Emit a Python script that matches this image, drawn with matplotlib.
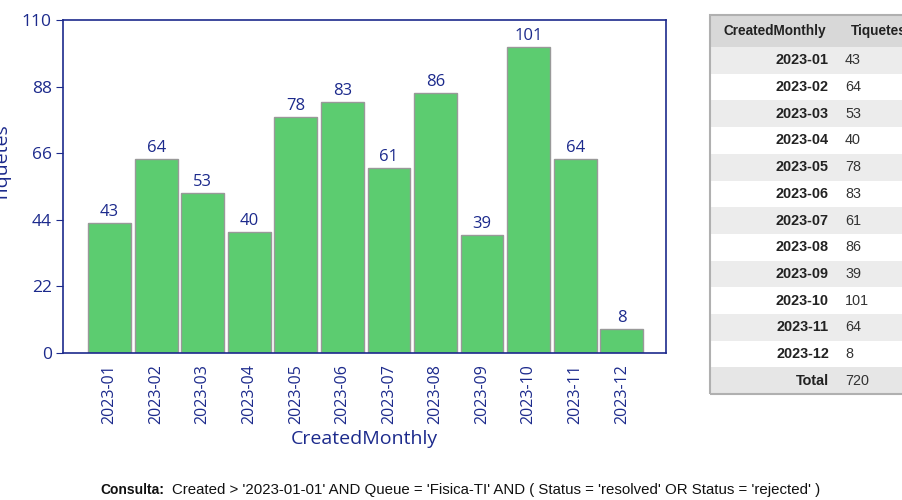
import matplotlib.pyplot as plt
from matplotlib.patches import Rectangle
import numpy as np

months = ['2023-01', '2023-02', '2023-03', '2023-04', '2023-05', '2023-06',
          '2023-07', '2023-08', '2023-09', '2023-10', '2023-11', '2023-12']
tickets = [43, 64, 53, 40, 78, 83, 61, 86, 39, 101, 64, 8]
yticks = [0, 22, 44, 66, 88, 110]

query = "Created > '2023-01-01' AND Queue = 'Fisica-TI' AND ( Status = 'resolved' OR Status = 'rejected' )"

navy = '#1c2a8c'
W, H = 902, 500

fig = plt.figure(figsize=(9.02, 5.0), dpi=100)
ax = fig.add_axes([63 / W, 1 - 353 / H, (666 - 63) / W, (353 - 20) / H])

x = np.arange(len(months))
bars = ax.bar(x, tickets, width=0.92, color='#5ccc70', edgecolor='#999999', linewidth=1)
for xi, v in zip(x, tickets):
    ax.text(xi, v + 1, str(v), ha='center', va='bottom', color=navy,
            fontsize=12, family='Open Sans')

ax.set_xlim(-1.0, 11.95)
ax.set_ylim(0, 110)
ax.set_yticks(yticks)
ax.set_xticks(x)
ax.set_xticklabels(months, rotation=90, family='Open Sans', fontsize=11.5, color=navy)
for lbl in ax.get_yticklabels():
    lbl.set_family('Open Sans')
    lbl.set_fontsize(12.5)
    lbl.set_color(navy)
ax.tick_params(axis='y', length=5, color=navy, pad=3)
ax.tick_params(axis='x', length=0, pad=8)
for sp in ax.spines.values():
    sp.set_color(navy)
    sp.set_linewidth(1.2)

ax.set_xlabel('CreatedMonthly', family='Open Sans', fontsize=14, color=navy, labelpad=4)
# the reference shows this label mostly cut off at the left edge
ax.set_ylabel('Tiquetes', family='Open Sans', fontsize=14, color=navy)
ax.yaxis.set_label_coords(-0.085, 0.57)

# table on the right
def fx(px):
    return px / W

def fy(py):
    return 1 - py / H

hfs = 9.8
tfs = 10.4
row_h = 26.7
top = 15
left = 710
right = 905
hdr_h = 32
fig.patches.append(Rectangle((fx(left), fy(top + hdr_h)), fx(right - left), hdr_h / H,
                             transform=fig.transFigure, facecolor='#d8d8d8', edgecolor='none'))
fig.text(fx(724), fy(top + hdr_h / 2), 'CreatedMonthly', ha='left', va='center',
         fontsize=hfs, weight='bold', family='Liberation Sans', color='#222222')
fig.text(fx(851), fy(top + hdr_h / 2), 'Tiquetes', ha='left', va='center',
         fontsize=hfs, weight='bold', family='Liberation Sans', color='#222222')

y0 = top + hdr_h
for i, (m, v) in enumerate(zip(months, tickets)):
    yt = y0 + i * row_h
    fc = '#ececec' if i % 2 == 0 else '#ffffff'
    fig.patches.append(Rectangle((fx(left), fy(yt + row_h)), fx(right - left), row_h / H,
                                 transform=fig.transFigure, facecolor=fc, edgecolor='none'))
    fig.text(fx(829), fy(yt + row_h / 2), m, ha='right', va='center',
             fontsize=tfs, weight='bold', family='Liberation Sans', color='#222222')
    fig.text(fx(845), fy(yt + row_h / 2), str(v), ha='left', va='center',
             fontsize=tfs, family='Liberation Sans', color='#333333')

yt = y0 + len(months) * row_h
fig.patches.append(Rectangle((fx(left), fy(yt + row_h)), fx(right - left), row_h / H,
                             transform=fig.transFigure, facecolor='#e6e6e6', edgecolor='none'))
fig.text(fx(829), fy(yt + row_h / 2), 'Total', ha='right', va='center',
         fontsize=tfs, weight='bold', family='Liberation Sans', color='#222222')
fig.text(fx(845), fy(yt + row_h / 2), str(sum(tickets)), ha='left', va='center',
         fontsize=tfs, family='Liberation Sans', color='#333333')
bottom = yt + row_h
fig.patches.append(Rectangle((fx(left), fy(bottom)), fx(right - left), (bottom - top) / H,
                             transform=fig.transFigure, facecolor='none',
                             edgecolor='#b0b0b0', linewidth=1.5))

# query footer
fig.text(fx(100), fy(490), 'Consulta:', ha='left', va='center', fontsize=10,
         weight='bold', family='Liberation Sans', color='#111111')
fig.text(fx(172), fy(490), query, ha='left', va='center', fontsize=10.8,
         family='Liberation Sans', color='#111111')

fig.savefig('out.png', dpi=100)
